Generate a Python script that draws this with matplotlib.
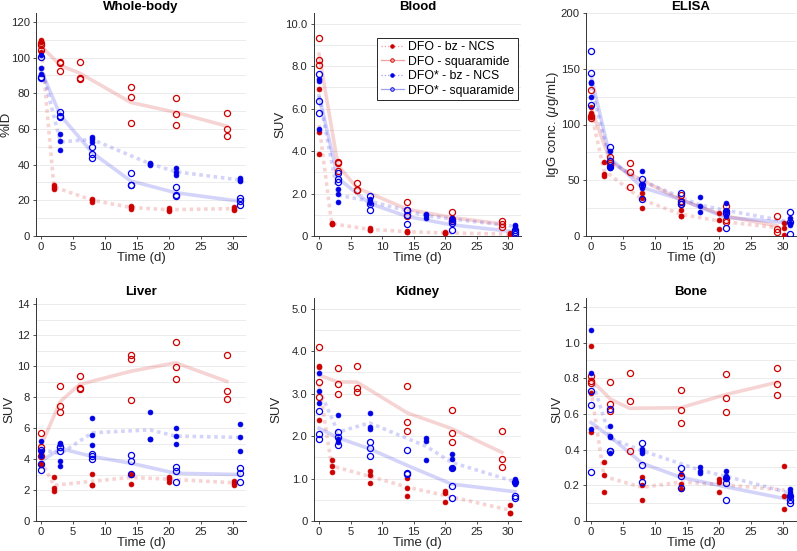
import numpy as np
import matplotlib
matplotlib.use('Agg')
import matplotlib.pyplot as plt
from matplotlib.lines import Line2D
from matplotlib.ticker import MultipleLocator, FuncFormatter

plt.rcParams['font.family'] = ['Liberation Sans', 'DejaVu Sans']
plt.rcParams['mathtext.fontset'] = 'custom'
plt.rcParams['mathtext.it'] = 'Liberation Sans:italic'

# sampling times (d) of each group
T_DFO_BZ = [0, 2, 8, 14, 20, 30.2]
T_DFO_SQ = [0, 3, 6, 14, 21, 29]
T_STAR_BZ = [0, 3, 8, 17, 21, 31]
T_STAR_SQ = [0, 3, 8, 14, 21, 31]

LABELS = ["DFO - bz - NCS", "DFO - squaramide", "DFO* - bz - NCS", "DFO* - squaramide"]

# Whole-body (%ID)
WB_DFO_BZ = [[110, 109, 103], [28.5, 27.5, 26.5], [21, 20, 19.3], [17, 16, 15], [15.5, 14.6, 14], [16.5, 15.4, 14.3]]
WB_DFO_SQ = [[107, 104.5, 108], [97.5, 97, 92.3], [97.5, 88.5, 88.1], [83.4, 78, 63.2], [77.4, 68.2, 62.4], [68.8, 60, 56]]
WB_STAR_BZ = [[101.5, 94, 91], [57.2, 53.2, 48], [55.5, 54.3, 52.5], [41, 40.5, 40], [38, 36, 34.2], [32.3, 31.3, 30.6]]
WB_STAR_SQ = [[100.5, 89, 88.8], [69.4, 67.1, 66.5], [50, 46, 43.9], [35.4, 28.7, 28.5], [27.4, 22.9, 22.5], [21.5, 19.7, 17.2]]

# Blood (SUV)
BL_DFO_BZ = [[6.91, 4.91, 3.87], [0.62, 0.57, 0.55], [0.38, 0.3, 0.26], [0.23, 0.2, 0.18], [0.17, 0.14, 0.12], [0.13, 0.08, 0.06]]
BL_DFO_SQ = [[9.33, 8.28, 8.07], [3.5, 3.42, 3.06], [2.48, 2.18, 2.15], [1.6, 1.22, 0.95], [1.12, 0.8, 0.7], [0.72, 0.56, 0.42]]
BL_STAR_BZ = [[7.4, 7.3, 5.05], [2.21, 1.96, 1.61], [1.75, 1.63, 1.55], [1.05, 0.97, 0.85], [0.85, 0.8, 0.76], [0.52, 0.45, 0.4]]
BL_STAR_SQ = [[7.65, 6.38, 5.8], [2.95, 2.7, 2.52], [1.88, 1.5, 1.22], [1.22, 0.97, 0.56], [0.7, 0.6, 0.28], [0.3, 0.2, 0.1]]

# ELISA (IgG conc., ug/mL)
EL_DFO_BZ = [[115.5, 110, 107], [66.8, 56, 54.2], [38.3, 34.1, 25.1], [23, 18, 17.5], [20.4, 14, 6], [12, 6.9, 0.9]]
EL_DFO_SQ = [[130.5, 108, 105.5], [70.7, 65.3, 64], [65.9, 57.8, 43.7], [37, 31.5, 29], [27, 14.5, 12.3], [18, 6, 3.3]]
EL_STAR_BZ = [[138.5, 137.5, 125], [76.5, 62.3, 61], [58.4, 46.7, 42.8], [34.7, 27.2, 21.3], [29.3, 22, 18], [16.5, 12, 9.5]]
EL_STAR_SQ = [[166, 146.5, 117.5], [80, 67, 62], [51, 46, 33.5], [38.9, 30.8, 28.7], [22.5, 20.5, 7], [21.5, 12.5, 1.5]]

# Liver (SUV)
LI_DFO_BZ = [[4.4, 3.7, 3.6], [2.85, 2.1, 1.95], [3.05, 2.35, 2.3], [3.05, 3.0, 2.4], [2.85, 2.7, 2.55], [2.6, 2.45, 2.35]]
LI_DFO_SQ = [[5.7, 4.8, 4.2], [8.7, 7.4, 7.05], [9.35, 8.6, 8.5], [10.75, 10.45, 7.8], [11.55, 9.95, 9.15], [10.75, 8.4, 7.9]]
LI_STAR_BZ = [[5.15, 4.5, 4.2], [5.05, 4.95, 3.85, 3.55], [6.65, 5.55, 4.9], [7.05, 5.3, 5.3], [6.0, 5.5, 4.95], [6.25, 5.4, 4.55]]
LI_STAR_SQ = [[4.6, 3.65, 3.3], [4.8, 4.75, 4.5], [4.3, 4.2, 4.0], [4.25, 3.9, 3.05], [3.5, 3.2, 2.55], [3.4, 3.1, 2.5]]

# Kidney (SUV)
KI_DFO_BZ = [[3.65, 3.62, 2.37], [1.43, 1.3, 1.16], [1.18, 1.08, 0.9], [1.02, 0.77, 0.6], [0.7, 0.66, 0.44], [0.38, 0.2, 0.19]]
KI_DFO_SQ = [[4.1, 3.27, 2.93], [3.6, 3.22, 3.0], [3.65, 3.12, 3.04], [3.18, 2.34, 2.11], [2.62, 2.06, 1.85], [2.11, 1.47, 1.26]]
KI_STAR_BZ = [[3.48, 3.05, 2.77], [2.49, 1.93, 1.86], [2.54, 2.22, 2.17], [1.95, 1.88, 1.44], [1.57, 1.46, 1.25, 1.24], [1.0, 0.92, 0.86]]
KI_STAR_SQ = [[2.58, 2.05, 1.92], [2.1, 1.98, 1.8], [1.86, 1.71, 1.53], [1.68, 1.14, 1.1], [1.25, 0.82, 0.54], [0.92, 0.6, 0.55]]

# Bone (SUV)
BO_DFO_BZ = [[0.98, 0.72, 0.5], [0.33, 0.26, 0.16], [0.245, 0.2, 0.12], [0.265, 0.21, 0.18], [0.235, 0.22, 0.16], [0.31, 0.14, 0.07]]
BO_DFO_SQ = [[0.815, 0.785, 0.775], [0.78, 0.655, 0.615], [0.83, 0.675, 0.39], [0.735, 0.62, 0.55], [0.825, 0.69, 0.61], [0.855, 0.77, 0.705]]
BO_STAR_BZ = [[1.07, 0.83, 0.515], [0.53, 0.475, 0.47, 0.38], [0.405, 0.395, 0.38], [0.305, 0.28, 0.27], [0.28, 0.25, 0.24, 0.235], [0.18, 0.16, 0.15, 0.14]]
BO_STAR_SQ = [[0.73, 0.65, 0.275], [0.63, 0.395, 0.39], [0.435, 0.315, 0.22], [0.295, 0.255, 0.185], [0.24, 0.215, 0.12], [0.14, 0.12, 0.1]]

RED = '#cc0000'
BLUE = '#0000e6'
STYLES = [  # colour, filled marker?, dotted line?
    (RED, True, True),
    (RED, False, False),
    (BLUE, True, True),
    (BLUE, False, False),
]
DOTTED = (0, (1, 1))


def panel(ax, title, ylabel, ymax, ymajor, yminor, fmt, groups, ylab_px):
    times = [T_DFO_BZ, T_DFO_SQ, T_STAR_BZ, T_STAR_SQ]
    # mean lines first, faint
    for t, vals, (c, filled, dotted) in zip(times, groups, STYLES):
        means = [np.mean(v) for v in vals]
        ax.plot(t, means, color=c, alpha=0.17, lw=2.6,
                ls=DOTTED if dotted else '-', dash_capstyle='butt',
                solid_joinstyle='round', zorder=2)
    # individual animals
    for t, vals, (c, filled, dotted) in zip(times, groups, STYLES):
        xs = np.concatenate([[ti] * len(v) for ti, v in zip(t, vals)])
        ys = np.concatenate([v for v in vals])
        if filled:
            ax.plot(xs, ys, 'o', ms=3.5, mfc=c, mec=c, mew=0.5, zorder=3)
        else:
            ax.plot(xs, ys, 'o', ms=4.4, mfc='none', mec=c, mew=0.9, zorder=3)

    ax.set_xlim(-0.8, 32)
    ax.set_ylim(0, ymax)
    ax.xaxis.set_major_locator(MultipleLocator(5))
    ax.yaxis.set_major_locator(MultipleLocator(ymajor))
    ax.yaxis.set_minor_locator(MultipleLocator(yminor))
    ax.yaxis.set_major_formatter(FuncFormatter(lambda v, _: '0' if v == 0 else fmt % v))
    ax.yaxis.grid(True, which='both', color='#ececec', lw=0.7)
    ax.set_axisbelow(True)
    for s in ('top', 'right'):
        ax.spines[s].set_visible(False)
    for s in ('left', 'bottom'):
        ax.spines[s].set_color('#333333')
        ax.spines[s].set_linewidth(0.7)
    ax.tick_params(which='major', direction='out', length=2.5, width=0.6, pad=2,
                   colors='#333333', labelsize=8.1, labelcolor='#262626')
    ax.tick_params(which='minor', length=0)
    ax.set_title(title, fontsize=9.5, fontweight='bold', pad=1)
    ax.set_xlabel('Time (d)', fontsize=9.5, color='#262626', labelpad=0)
    ax.set_ylabel(ylabel, fontsize=9.5, color='#262626', va='center')
    # horizontal position of the y label, in pixels left of the axis
    width_px = ax.get_position().width * W
    ax.yaxis.set_label_coords(-ylab_px / width_px, 0.5)


fig = plt.figure(figsize=(7.97, 5.51), dpi=100)
W, H = 797, 551


def axes_px(left, top, width, height):
    return fig.add_axes([left / W, 1 - (top + height) / H, width / W, height / H])


lefts = [36, 314, 586]
widths = [210, 207, 210]
tops = [13, 298]
h = 223

ax = axes_px(lefts[0], tops[0], widths[0], h)
panel(ax, 'Whole-body', '%ID', 125, 20, 10, '%g',
      [WB_DFO_BZ, WB_DFO_SQ, WB_STAR_BZ, WB_STAR_SQ], 29)

ax_blood = axes_px(lefts[1], tops[0], widths[1], h)
panel(ax_blood, 'Blood', 'SUV', 10.5, 2, 1, '%.1f',
      [BL_DFO_BZ, BL_DFO_SQ, BL_STAR_BZ, BL_STAR_SQ], 34)

ax = axes_px(lefts[2], tops[0], widths[2], h)
panel(ax, 'ELISA', r'IgG conc. ($\mu$g/mL)', 200, 50, 25, '%g',
      [EL_DFO_BZ, EL_DFO_SQ, EL_STAR_BZ, EL_STAR_SQ], 33)

ax = axes_px(lefts[0], tops[1], widths[0], h)
panel(ax, 'Liver', 'SUV', 14.4, 2, 1, '%g',
      [LI_DFO_BZ, LI_DFO_SQ, LI_STAR_BZ, LI_STAR_SQ], 27)

ax = axes_px(lefts[1], tops[1], widths[1], h)
panel(ax, 'Kidney', 'SUV', 5.25, 1, 0.5, '%.1f',
      [KI_DFO_BZ, KI_DFO_SQ, KI_STAR_BZ, KI_STAR_SQ], 38)

ax = axes_px(lefts[2], tops[1], widths[2], h)
panel(ax, 'Bone', 'SUV', 1.25, 0.2, 0.1, '%.1f',
      [BO_DFO_BZ, BO_DFO_SQ, BO_STAR_BZ, BO_STAR_SQ], 29)

# legend with small markers and thin faint lines
handles = []
for (c, filled, dotted), lab in zip(STYLES, LABELS):
    light = '#f0a0a0' if c == RED else '#a0a0f0'
    handles.append(Line2D([], [], color=light, lw=0.9,
                          ls=':' if dotted else '-',
                          marker='o', ms=2.6, mfc=c if filled else light,
                          mec=c, mew=0.6, label=lab))
leg = ax_blood.legend(handles=handles, loc='upper right', bbox_to_anchor=(0.985, 0.89),
                      fontsize=8.8, frameon=True, fancybox=False, framealpha=1,
                      edgecolor='#262626', handlelength=1.9, handletextpad=0.35,
                      labelspacing=0.2, borderpad=0.3, borderaxespad=0)
leg.get_frame().set_linewidth(0.7)

fig.savefig('out.png', dpi=100)
